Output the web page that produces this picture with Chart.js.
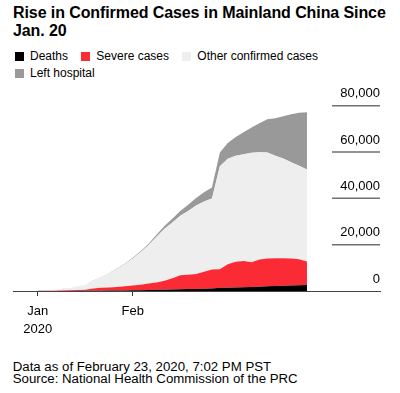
<!DOCTYPE html>
<html>
<head>
<meta charset="utf-8">
<script src="https://cdn.jsdelivr.net/npm/chart.js@4.4.1/dist/chart.umd.min.js"></script>
<style>
html,body{margin:0;padding:0;background:#fff;}
body{width:400px;height:393px;position:relative;overflow:hidden;font-family:"Liberation Sans",Arial,Helvetica,sans-serif;color:#000;}
#title{position:absolute;left:13px;top:4.3px;width:390px;font-weight:bold;font-size:16px;letter-spacing:-0.09px;line-height:17.7px;}
#legend{position:absolute;left:14.7px;top:47.7px;width:372px;font-size:12px;line-height:17.3px;display:flex;flex-wrap:wrap;}
.item{display:inline-flex;align-items:center;height:17.3px;margin-right:13px;white-space:nowrap;}
.sw{display:inline-block;width:9px;height:9px;margin-right:6.3px;}
#wrap{position:absolute;left:0;top:85px;width:400px;height:270px;}
#wrap canvas{display:block;}
#foot{position:absolute;left:12.7px;top:360.8px;font-size:13.25px;line-height:12.6px;white-space:nowrap;}
</style>
</head>
<body>
<div id="title">Rise in Confirmed Cases in Mainland China Since Jan. 20</div>
<div id="legend"></div>
<div id="wrap"><canvas id="c" width="400" height="270"></canvas></div>
<div id="foot">Data as of February 23, 2020, 7:02 PM PST<br>Source: National Health Commission of the PRC</div>
<script>
// Dates: Jan 20 ... Feb 23, 2020 (one point per day)
const dates = ['Jan 20','Jan 21','Jan 22','Jan 23','Jan 24','Jan 25','Jan 26','Jan 27','Jan 28','Jan 29','Jan 30','Jan 31',
  'Feb 1','Feb 2','Feb 3','Feb 4','Feb 5','Feb 6','Feb 7','Feb 8','Feb 9','Feb 10','Feb 11','Feb 12','Feb 13','Feb 14',
  'Feb 15','Feb 16','Feb 17','Feb 18','Feb 19','Feb 20','Feb 21','Feb 22','Feb 23'];
const deaths = [6,9,17,25,41,56,80,106,132,170,213,259,
  304,361,425,490,563,636,722,811,908,1016,1113,1367,1380,1523,1665,1770,1868,2004,2118,2236,2345,2442,2592];
const severeCases = [51,102,95,177,237,324,461,976,1239,1370,1527,1795,
  2110,2296,2788,3219,3859,4821,6101,6188,6484,7333,8204,8030,10204,11053,11272,10644,11741,11977,12057,11864,11633,11300,10100];
const otherConfirmed = [209,301,431,594,971,1546,2152,3373,4500,6047,7781,9494,
  11638,14073,16593,19723,22443,24164,25673,27550,29498,30293,30596,44496,45544,45820,46144,47290,46275,45828,44246,43101,41651,40306,39724];
const leftHospital = [25,28,28,34,38,49,51,60,103,124,171,243,
  328,475,632,892,1153,1540,2050,2649,3281,3996,4740,5911,6723,8096,9419,10844,12552,14376,16155,18264,20659,22888,24734];
const seriesNames = ['Deaths','Severe cases','Other confirmed cases','Left hospital'];
const xTickDays = [0, 12];               // Jan 20 and Feb 1, as day index
const xTickLabels = [['Jan','2020'], ['Feb']];
const yTicks = [0, 20000, 40000, 60000, 80000];

const seriesColors = ['#000000','#fb2b36','#eeeeee','#999999'];
const FONT = '"Liberation Sans", Arial, Helvetica, sans-serif';

const seriesData = [deaths, severeCases, otherConfirmed, leftHospital];

// HTML legend
const leg = document.getElementById('legend');
seriesNames.forEach((n,i)=>{
  const it = document.createElement('span'); it.className='item';
  const sw = document.createElement('span'); sw.className='sw'; sw.style.background = seriesColors[i];
  it.appendChild(sw); it.appendChild(document.createTextNode(n));
  leg.appendChild(it);
});

const gridSegments = {
  id: 'gridSegments',
  afterDraw(chart) {
    const {ctx, chartArea, scales} = chart;
    const y = scales.y;
    ctx.save();
    ctx.strokeStyle = '#707070';
    ctx.lineWidth = 1.5;
    yTicks.forEach(v => {
      if (v === 0) return;
      const py = y.getPixelForValue(v);
      ctx.beginPath();
      ctx.moveTo(chartArea.right - 48, py);
      ctx.lineTo(chartArea.right, py);
      ctx.stroke();
    });
    ctx.restore();
  }
};

new Chart(document.getElementById('c'), {
  type: 'line',
  data: {
    labels: dates,
    datasets: seriesData.map((arr, i) => ({
      label: seriesNames[i],
      data: arr.map((v, j) => ({x: j, y: v})),
      backgroundColor: seriesColors[i],
      borderColor: seriesColors[i],
      borderWidth: 0,
      pointRadius: 0,
      fill: i === 0 ? 'origin' : '-1',
      tension: 0
    }))
  },
  options: {
    responsive: false,
    animation: false,
    devicePixelRatio: 1,
    layout: {padding: {left: 13, right: 12, top: 20.7, bottom: 9.9}},
    plugins: {legend: {display: false}, tooltip: {enabled: false}, title: {display: false}},
    scales: {
      x: {
        type: 'linear',
        min: -3.12,
        max: 43.22,
        afterBuildTicks: s => { s.ticks = xTickDays.map(v => ({value: v})); },
        grid: {drawOnChartArea: false, drawTicks: true, tickLength: 5, color: '#333', lineWidth: 1},
        border: {display: true, color: '#444', width: 1},
        ticks: {
          autoSkip: false, maxRotation: 0, padding: 7, color: '#000',
          font: {family: FONT, size: 13, lineHeight: 1.35},
          callback: v => { const k = xTickDays.indexOf(v); return k >= 0 ? xTickLabels[k] : ''; }
        }
      },
      y: {
        position: 'right',
        stacked: true,
        min: 0,
        max: 80000,
        afterBuildTicks: s => { s.ticks = yTicks.map(v => ({value: v})); },
        grid: {display: false},
        border: {display: false},
        ticks: {
          mirror: true, padding: 0, labelOffset: -12, color: '#000',
          font: {family: FONT, size: 13},
          callback: v => v.toLocaleString('en-US')
        }
      }
    }
  },
  plugins: [gridSegments]
});
</script>
</body>
</html>
